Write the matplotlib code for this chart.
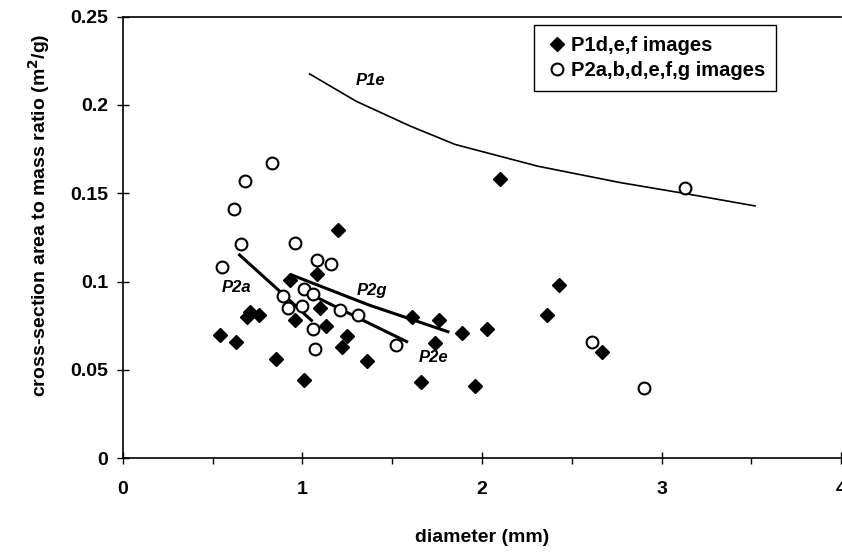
import matplotlib.pyplot as plt
from matplotlib.ticker import MultipleLocator

plt.rcParams['font.family'] = ['Liberation Sans', 'DejaVu Sans']
plt.rcParams['font.weight'] = 'bold'

# P1d,e,f images (filled diamonds)
p1_d = [2.10, 1.20, 1.08, 0.93, 1.10, 0.96, 1.13, 0.69, 0.71, 0.76, 0.54, 0.63,
        0.85, 1.01, 1.25, 1.22, 1.36, 1.61, 1.76, 1.74, 1.89, 2.03, 1.66, 1.96,
        2.36, 2.67, 2.43]
p1_r = [0.158, 0.129, 0.104, 0.101, 0.085, 0.078, 0.075, 0.080, 0.083, 0.081, 0.070, 0.066,
        0.056, 0.044, 0.069, 0.063, 0.055, 0.080, 0.078, 0.065, 0.071, 0.073, 0.043, 0.041,
        0.081, 0.060, 0.098]

# P2a,b,d,e,f,g images (open circles)
p2_d = [0.83, 0.68, 0.62, 0.66, 0.55, 0.96, 1.08, 1.16, 0.89, 0.92, 1.00, 1.01,
        1.06, 1.06, 1.07, 1.21, 1.31, 1.52, 2.61, 2.90, 3.13]
p2_r = [0.167, 0.157, 0.141, 0.121, 0.108, 0.122, 0.112, 0.110, 0.092, 0.085, 0.086, 0.096,
        0.093, 0.073, 0.062, 0.084, 0.081, 0.064, 0.066, 0.040, 0.153]

# trend curves
p1e_d = [1.04, 1.30, 1.60, 1.85, 2.31, 2.77, 3.12, 3.52]
p1e_r = [0.2175, 0.202, 0.188, 0.1776, 0.1653, 0.156, 0.150, 0.1428]
p2a_d = [0.65, 0.87, 1.05]
p2a_r = [0.115, 0.0948, 0.078]
p2g_d = [0.94, 1.37, 1.81]
p2g_r = [0.1037, 0.0867, 0.0716]
p2e_d = [1.02, 1.37, 1.58]
p2e_r = [0.094, 0.0764, 0.066]

fig = plt.figure(figsize=(8.42, 5.52), dpi=100)
ax = fig.add_axes([0.146, 0.170, 0.853, 0.80])

ax.plot(p1e_d, p1e_r, color='black', lw=1.2)
ax.plot(p2a_d, p2a_r, color='black', lw=2.2)
ax.plot(p2g_d, p2g_r, color='black', lw=2.2)
ax.plot(p2e_d, p2e_r, color='black', lw=2.2)

ax.plot(p1_d, p1_r, linestyle='none', marker='D', ms=7, color='black',
        label='P1d,e,f images')
ax.plot(p2_d, p2_r, linestyle='none', marker='o', ms=8.5, mfc='white', mec='black',
        mew=1.5, label='P2a,b,d,e,f,g images')

ax.text(1.38, 0.214, 'P1e', style='italic', fontsize=12, ha='center', va='center')
ax.text(0.63, 0.0967, 'P2a', style='italic', fontsize=12, ha='center', va='center')
ax.text(1.385, 0.0948, 'P2g', style='italic', fontsize=12, ha='center', va='center')
ax.text(1.73, 0.0572, 'P2e', style='italic', fontsize=12, ha='center', va='center')

ax.set_xlim(0, 4)
ax.set_ylim(0, 0.25)
ax.xaxis.set_major_locator(MultipleLocator(1))
ax.xaxis.set_minor_locator(MultipleLocator(0.5))
ax.set_yticks([0, 0.05, 0.1, 0.15, 0.2, 0.25])
ax.set_yticklabels(['0', '0.05', '0.1', '0.15', '0.2', '0.25'])
ax.tick_params(axis='x', which='major', direction='inout', length=9, width=1,
               pad=12, labelsize=14)
ax.tick_params(axis='x', which='minor', direction='out', length=4, width=1)
ax.tick_params(axis='y', which='major', direction='inout', length=9, width=1,
               pad=6, labelsize=14)
ax.spines['right'].set_visible(False)
for s in ['left', 'bottom', 'top']:
    ax.spines[s].set_linewidth(1.2)

ax.set_xlabel('diameter (mm)', fontsize=14, fontweight='bold', labelpad=22)
ax.set_ylabel('cross-section area to mass ratio (m$^\\mathbf{2}$/g)', fontsize=14,
              fontweight='bold')
ax.yaxis.set_label_coords(-0.099, 0.55)

leg = ax.legend(loc='upper left', bbox_to_anchor=(0.572, 0.981), borderaxespad=0,
                fontsize=14.5, fancybox=False, framealpha=1, edgecolor='black',
                handlelength=1.2, handletextpad=0.1, borderpad=0.55, labelspacing=0.3)
leg.get_frame().set_linewidth(1.0)

plt.savefig('out.png', dpi=100)
